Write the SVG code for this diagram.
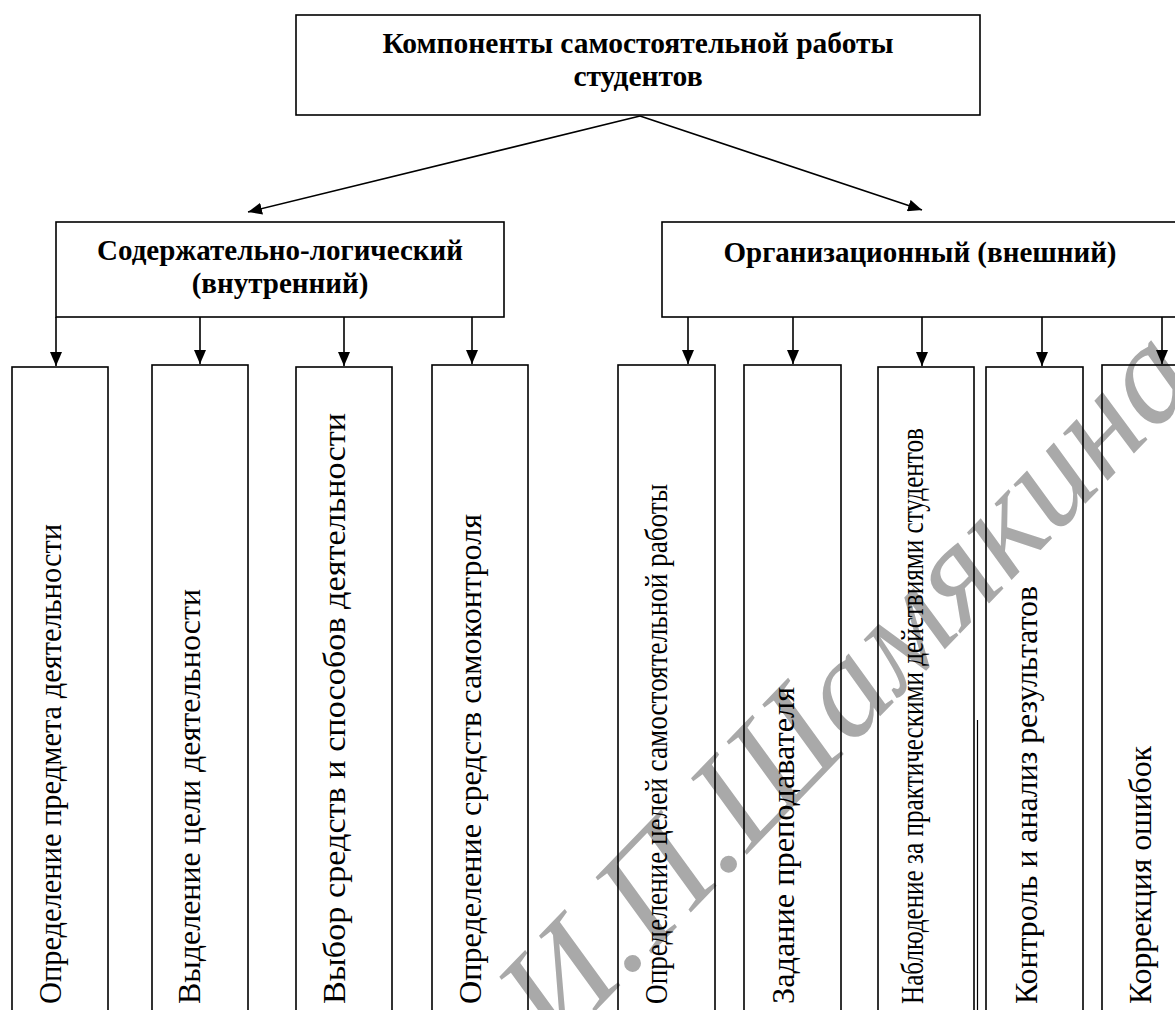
<svg xmlns="http://www.w3.org/2000/svg" width="1175" height="1010" viewBox="0 0 1175 1010">
<style>
.box{fill:none;stroke:#000;stroke-width:1.6}
.hd{font-family:"Liberation Serif","Times New Roman",serif;font-weight:bold;fill:#000;text-anchor:middle}
.vt{font-family:"Liberation Serif","Times New Roman",serif;font-size:32px;fill:#000}
.conn line{stroke:#000;stroke-width:1.6;marker-end:url(#ah)}
.wm{font-family:"Liberation Serif","Times New Roman",serif;font-style:italic;font-size:142px;fill:#a9a9a9}
</style>
<defs>
<marker id="ah" viewBox="0 0 14 12" refX="14" refY="6" markerWidth="14" markerHeight="12" markerUnits="userSpaceOnUse" orient="auto">
<path d="M0,0 L14,6 L0,12 z" fill="#000"/>
</marker>
</defs>
<rect width="1175" height="1010" fill="#fff"/>
<text class="wm" transform="translate(556,1052) rotate(-46)">И.П.Шамякина</text>

<g id="root">
<rect class="box" x="296" y="15" width="684" height="100"/>
<text class="hd" x="638" y="53" font-size="29.5">Компоненты самостоятельной работы</text>
<text class="hd" x="638" y="86" font-size="29.5">студентов</text>
</g>

<g id="internal">
<rect class="box" x="56" y="222" width="448" height="95"/>
<text class="hd" x="280" y="260" font-size="29">Содержательно-логический</text>
<text class="hd" x="280" y="293" font-size="29">(внутренний)</text>
</g>

<g id="external">
<rect class="box" x="662" y="222" width="520" height="95"/>
<text class="hd" x="920" y="262" font-size="29">Организационный (внешний)</text>
</g>

<g id="c1"><rect class="box" x="12" y="367" width="96" height="660"/>
<text class="vt" transform="translate(61,1004) rotate(-90)" textLength="480" lengthAdjust="spacingAndGlyphs">Определение предмета деятельности</text></g>
<g id="c2"><rect class="box" x="152" y="365" width="96" height="660"/>
<text class="vt" transform="translate(200,1004) rotate(-90)" textLength="415" lengthAdjust="spacingAndGlyphs">Выделение цели деятельности</text></g>
<g id="c3"><rect class="box" x="296" y="367" width="96" height="660"/>
<text class="vt" transform="translate(345,1004) rotate(-90)" textLength="591" lengthAdjust="spacingAndGlyphs">Выбор средств и способов деятельности</text></g>
<g id="c4"><rect class="box" x="432" y="365" width="96" height="660"/>
<text class="vt" transform="translate(481,1004) rotate(-90)" textLength="490" lengthAdjust="spacingAndGlyphs">Определение средств самоконтроля</text></g>
<g id="c5"><rect class="box" x="618" y="365" width="97" height="660"/>
<text class="vt" transform="translate(667,1004) rotate(-90)" textLength="520" lengthAdjust="spacingAndGlyphs">Определение целей самостоятельной работы</text></g>
<g id="c6"><rect class="box" x="744" y="365" width="97" height="660"/>
<text class="vt" transform="translate(794,1004) rotate(-90)" textLength="317" lengthAdjust="spacingAndGlyphs">Задание преподавателя</text></g>
<g id="c7"><rect class="box" x="878" y="367" width="96" height="660"/>
<line x1="977.5" y1="720" x2="977.5" y2="1010" stroke="#000" stroke-width="1.2"/>
<text class="vt" transform="translate(923,1004) rotate(-90)" textLength="576" lengthAdjust="spacingAndGlyphs">Наблюдение за практическими действиями студентов</text></g>
<g id="c8"><rect class="box" x="986" y="367" width="97" height="660"/>
<text class="vt" transform="translate(1037,1004) rotate(-90)" textLength="418" lengthAdjust="spacingAndGlyphs">Контроль и анализ результатов</text></g>
<g id="c9"><rect class="box" x="1102" y="365" width="100" height="660"/>
<text class="vt" transform="translate(1151,1004) rotate(-90)" textLength="258" lengthAdjust="spacingAndGlyphs">Коррекция ошибок</text></g>

<g class="conn" id="connectors">
<line x1="640" y1="116" x2="248" y2="212"/>
<line x1="640" y1="116" x2="922" y2="210"/>
<line x1="56" y1="317" x2="56" y2="366"/>
<line x1="200" y1="317" x2="200" y2="364"/>
<line x1="344" y1="317" x2="344" y2="366"/>
<line x1="472" y1="317" x2="472" y2="364"/>
<line x1="688" y1="317" x2="688" y2="364"/>
<line x1="793" y1="317" x2="793" y2="364"/>
<line x1="922" y1="317" x2="922" y2="366"/>
<line x1="1042" y1="317" x2="1042" y2="366"/>
<line x1="1162" y1="317" x2="1162" y2="364"/>
</g>
</svg>
